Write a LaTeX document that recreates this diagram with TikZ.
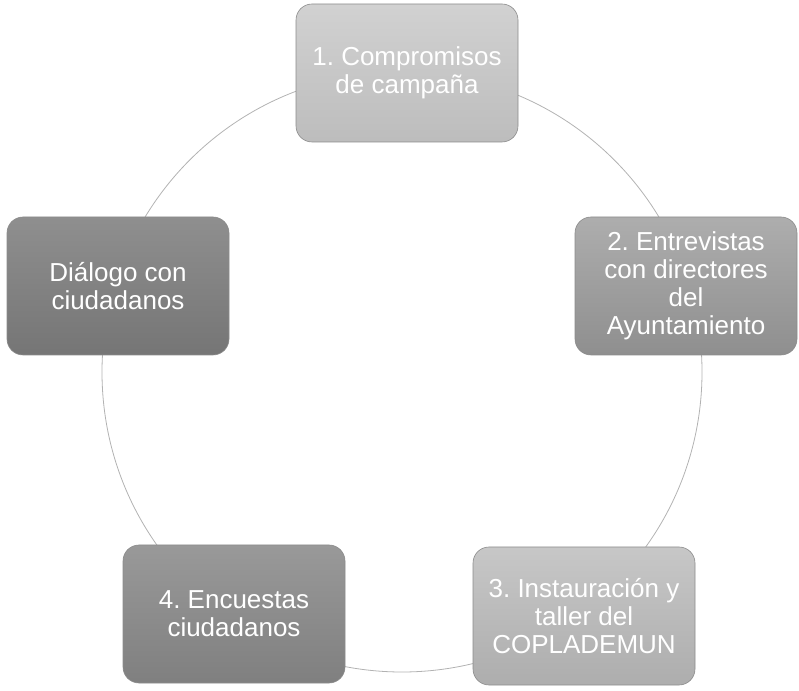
\documentclass[tikz,border=0pt]{standalone}
\usepackage{fontspec}
\setmainfont{Liberation Sans}
\usetikzlibrary{positioning}
\frenchspacing

\begin{document}
\begin{tikzpicture}[x=1pt,y=1pt,
    etapa/.style={rounded corners=16pt, minimum width=222pt, minimum height=138pt,
        align=center, text=white, draw=black!45, line width=0.6pt,
        font=\fontsize{26}{28}\selectfont},
    ciclo/.style={draw=black!30, line width=0.8pt}]
    \useasboundingbox (0,0) rectangle (799,690);

    % circulo de fondo
    \coordinate (centro) at (402,318);
    \draw[ciclo] (centro) circle (300);

    % etapas
    \node[etapa, top color=black!18, bottom color=black!26] (compromisos) at (407,617) {1. Compromisos\\de campaña};
    \node[etapa, top color=black!32, bottom color=black!44] (entrevistas) at (686,404) {2. Entrevistas\\con directores\\del\\Ayuntamiento};
    \node[etapa, top color=black!22, bottom color=black!32] (copladem) at (584,74) {3. Instauración y\\taller del\\COPLADEMUN};
    \node[etapa, top color=black!40, bottom color=black!50] (encuestas) at (234,76) {4. Encuestas\\ciudadanos};
    \node[etapa, top color=black!44, bottom color=black!54] (dialogo) at (118,404) {Diálogo con\\ciudadanos};
\end{tikzpicture}
\end{document}
